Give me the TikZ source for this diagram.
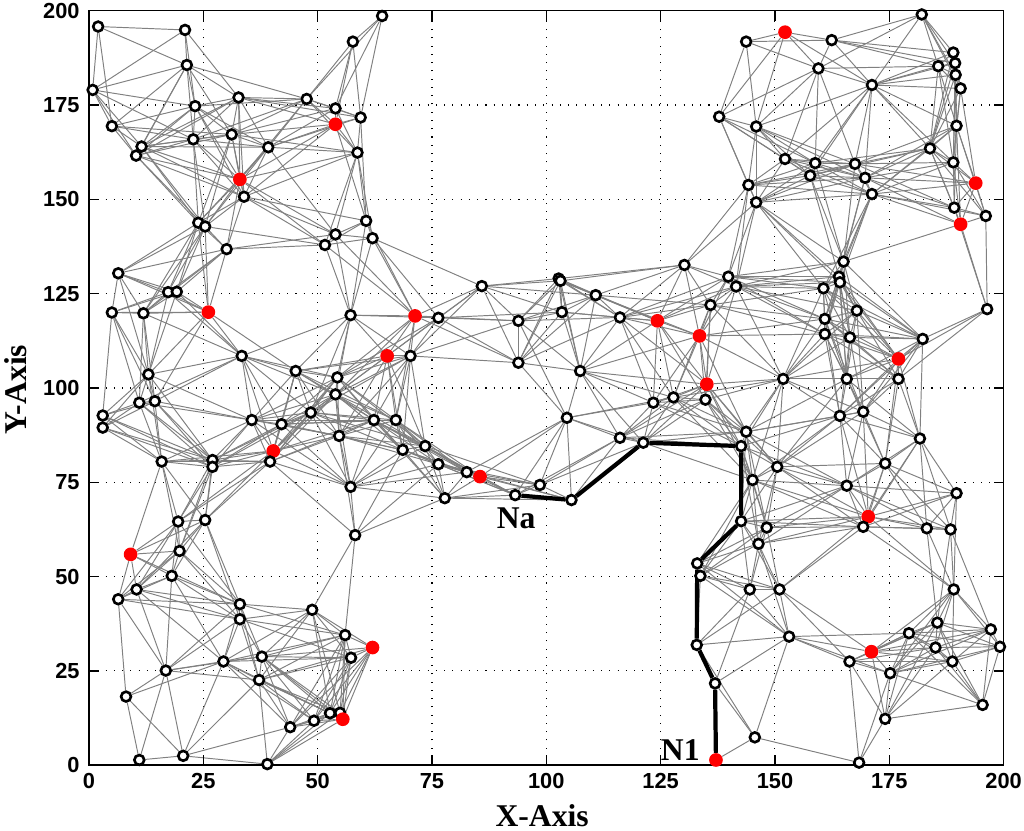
\documentclass[tikz,border=0pt]{standalone}
\usepackage{fontspec}
\setmainfont{Liberation Serif}
\newfontfamily\ticksfont{Liberation Sans}
\usetikzlibrary{positioning}
\pgfdeclarelayer{back}
\pgfdeclarelayer{links}
\pgfsetlayers{back,links,main}
\newdimen\dxl
\newdimen\dyl
\def\linkrange{28}

\begin{document}
\begin{tikzpicture}[x=0.09146cm,y=0.07546cm]
        \tikzstyle{sensor}=[circle,draw=black,fill=white,line width=1.5pt,inner sep=0pt,minimum size=5.6pt]
        \tikzstyle{beacon}=[circle,fill=red,inner sep=0pt,minimum size=7.8pt]
        \tikzstyle{link}=[gray,line width=0.55pt]
        \tikzstyle{route}=[black,line width=2.4pt]
        \tikzstyle{grd}=[black,line width=0.6pt,dash pattern=on 0.6pt off 4.1pt]
        \tikzstyle{ticklbl}=[font=\ticksfont\bfseries\fontsize{12.4}{12.4}\selectfont,inner sep=0pt]
        \tikzstyle{lbl}=[font=\bfseries\fontsize{18}{18}\selectfont,inner sep=0pt]
        \useasboundingbox (-19.46,-17.41) rectangle (204.46,202.84);
        \begin{pgfonlayer}{back}
            \foreach \t in {25,50,...,175} {
                \draw[grd] (\t,0) -- (\t,200);
                \draw[grd] (0,\t) -- (200,\t);
            }
        \end{pgfonlayer}
        \draw[line width=0.9pt] (0,0) rectangle (200,200);
        \foreach \t in {25,50,...,175} {
            \draw[line width=0.9pt] (\t,0) -- (\t,2.65);
            \draw[line width=0.9pt] (\t,200) -- (\t,197.35);
            \draw[line width=0.9pt] (0,\t) -- (2.19,\t);
            \draw[line width=0.9pt] (200,\t) -- (197.81,\t);
        }
        \foreach \t in {0,25,...,200} {
            \node[ticklbl,anchor=north] (xt\t) at (\t,-2) {\t};
            \node[ticklbl,anchor=east] (yt\t) at (-2,\t) {\t};
        }
        \node[lbl,anchor=north] (xlabel) at (99.1,-10.2) {X-Axis};
        \node[lbl,anchor=north,rotate=90] (ylabel) at (-18.6,99.5) {Y-Axis};
        % route nodes first: n1 = N1 ... n9 = Na
        \foreach \x/\y/\c [count=\k] in {
            137.1/1.4/beacon, 136.9/21.7/sensor, 132.9/31.9/sensor, 133.0/53.5/sensor, 142.6/64.7/sensor,
            142.6/84.6/sensor, 121.2/85.5/sensor, 105.5/70.3/sensor, 93.2/71.6/sensor,
            2.0/195.8/sensor, 21.0/194.9/sensor, 21.4/185.6/sensor, 0.8/179.0/sensor, 32.7/177.0/sensor,
            47.6/176.6/sensor, 64.1/198.6/sensor, 57.7/191.8/sensor, 23.2/174.7/sensor, 53.9/174.1/sensor,
            59.4/171.7/sensor, 53.9/169.9/beacon, 5.0/169.4/sensor, 31.2/167.2/sensor, 22.8/165.9/sensor,
            39.2/163.8/sensor, 11.5/164.0/sensor, 10.3/161.6/sensor, 58.7/162.4/sensor, 33.0/155.3/beacon,
            33.9/150.7/sensor, 23.9/143.8/sensor, 25.4/142.8/sensor, 30.1/136.8/sensor, 60.6/144.3/sensor,
            53.9/140.7/sensor, 51.6/137.9/sensor, 62.0/139.7/sensor, 6.4/130.4/sensor, 17.3/125.4/sensor,
            19.2/125.5/sensor, 26.1/120.1/beacon, 5.0/120.0/sensor, 11.9/119.8/sensor, 57.2/119.3/sensor,
            65.2/108.5/beacon, 33.4/108.5/sensor, 45.2/104.5/sensor, 54.3/102.8/sensor, 13.0/103.6/sensor,
            53.9/98.3/sensor, 11.0/96.1/sensor, 14.4/96.5/sensor, 3.0/92.7/sensor, 3.0/89.5/sensor,
            35.6/91.5/sensor, 48.5/93.5/sensor, 42.1/90.4/sensor, 62.3/91.5/sensor, 67.1/91.5/sensor,
            54.7/87.3/sensor, 68.6/83.6/sensor, 40.3/83.3/beacon, 39.6/80.5/sensor, 15.9/80.5/sensor,
            27.0/80.9/sensor, 27.0/79.1/sensor, 57.2/73.8/sensor, 19.5/64.6/sensor, 25.4/65.0/sensor,
            58.2/61.0/sensor, 9.1/55.9/beacon, 19.8/56.8/sensor, 18.1/50.2/sensor, 10.4/46.6/sensor,
            6.4/44.0/sensor, 33.0/42.7/sensor, 33.0/38.7/sensor, 48.8/41.2/sensor, 56.0/34.5/sensor,
            62.0/31.2/beacon, 57.3/28.5/sensor, 37.8/28.8/sensor, 29.4/27.5/sensor, 16.8/25.1/sensor,
            37.2/22.6/sensor, 8.1/18.2/sensor, 44.0/10.1/sensor, 49.2/11.8/sensor, 52.7/13.8/sensor,
            54.9/13.9/sensor, 55.5/12.2/beacon, 11.0/1.4/sensor, 20.6/2.5/sensor, 39.0/0.3/sensor,
            71.3/119.1/beacon, 76.4/118.6/sensor, 85.9/127.0/sensor, 102.7/129.0/sensor, 103.1/128.4/sensor,
            110.8/124.6/sensor, 93.9/117.8/sensor, 103.4/120.1/sensor, 116.1/118.7/sensor, 124.3/117.8/beacon,
            133.5/113.8/beacon, 130.2/132.6/sensor, 135.9/122.0/sensor, 70.3/108.5/sensor, 93.9/106.7/sensor,
            107.4/104.5/sensor, 135.1/101.0/beacon, 104.5/92.1/sensor, 123.4/96.1/sensor, 127.8/97.5/sensor,
            134.8/96.9/sensor, 116.1/86.8/sensor, 73.5/84.6/sensor, 76.4/79.8/sensor, 82.6/77.7/sensor,
            85.5/76.5/beacon, 77.8/70.8/sensor, 98.6/74.3/sensor,
            165.0/133.5/sensor, 139.8/129.5/sensor, 141.5/126.9/sensor, 160.6/126.4/sensor, 164.0/129.5/sensor,
            164.2/128.0/sensor, 167.9/120.5/sensor, 160.9/118.3/sensor, 160.9/114.3/sensor, 166.4/113.4/sensor,
            182.3/113.0/sensor, 196.4/120.9/sensor, 177.0/107.7/beacon, 177.0/102.4/sensor, 151.8/102.4/sensor,
            165.7/102.4/sensor, 164.2/92.6/sensor, 169.3/93.7/sensor, 143.7/88.4/sensor, 181.7/86.6/sensor,
            174.1/80.0/sensor, 150.5/79.1/sensor, 145.1/75.6/sensor, 165.7/74.1/sensor, 189.7/72.1/sensor,
            170.4/65.9/beacon, 148.2/63.0/sensor, 169.3/63.2/sensor, 183.2/62.8/sensor, 188.4/62.5/sensor,
            146.4/58.7/sensor, 133.7/50.2/sensor, 144.5/46.6/sensor, 151.0/46.6/sensor, 189.1/46.6/sensor,
            153.1/34.1/sensor, 185.5/37.8/sensor, 179.3/35.0/sensor, 197.2/36.0/sensor, 199.2/31.4/sensor,
            185.1/31.2/sensor, 171.1/30.1/beacon, 166.3/27.5/sensor, 188.8/27.5/sensor, 175.2/24.4/sensor,
            145.6/7.4/sensor, 174.1/12.3/sensor, 195.4/16.0/sensor, 168.4/0.7/sensor,
            182.1/199.0/sensor, 152.2/194.3/beacon, 143.7/191.8/sensor, 162.4/192.2/sensor, 159.5/184.7/sensor,
            171.2/180.3/sensor, 189.0/188.9/sensor, 189.4/186.1/sensor, 185.7/185.3/sensor, 189.5/183.0/sensor,
            190.6/179.4/sensor, 137.8/171.9/sensor, 145.9/169.3/sensor, 189.7/169.5/sensor, 183.9/163.5/sensor,
            189.0/159.8/sensor, 152.2/160.7/sensor, 158.8/159.6/sensor, 167.5/159.4/sensor, 157.7/156.3/sensor,
            169.7/155.7/sensor, 171.2/151.4/sensor, 144.2/153.8/sensor, 145.9/149.2/sensor, 193.9/154.3/beacon,
            189.2/147.8/sensor, 196.1/145.6/sensor, 190.6/143.4/beacon} {
            \node[\c] (n\k) at (\x,\y) {};
            \expandafter\xdef\csname px\k\endcsname{\x}
            \expandafter\xdef\csname py\k\endcsname{\y}
            \xdef\nnodes{\k}
        }
        \begin{pgfonlayer}{links}
            \foreach \i in {1,...,\nnodes} {
                \foreach \j in {\i,...,\nnodes} {
                    \dxl=\dimexpr\csname px\i\endcsname pt-\csname px\j\endcsname pt\relax
                    \dyl=\dimexpr\csname py\i\endcsname pt-\csname py\j\endcsname pt\relax
                    \ifdim\dxl<0pt \dxl=-\dxl\fi
                    \ifdim\dyl<0pt \dyl=-\dyl\fi
                    \ifdim\dxl<\linkrange pt \ifdim\dyl<\linkrange pt
                        \pgfmathparse{veclen(\dxl,\dyl)}
                        \ifdim\pgfmathresult pt<\linkrange pt \ifnum\j>\i
                            \draw[link] (n\i) -- (n\j);
                        \fi\fi
                    \fi\fi
                }
            }
            \draw[route] (n1) -- (n2) -- (n3) -- (n4) -- (n5) -- (n6) -- (n7) -- (n8) -- (n9);
        \end{pgfonlayer}
        \node[lbl] (labna) at (93.4,65.5) {Na};
        \node[lbl] (labn1) at (129.3,4.1) {N1};
\end{tikzpicture}
\end{document}
